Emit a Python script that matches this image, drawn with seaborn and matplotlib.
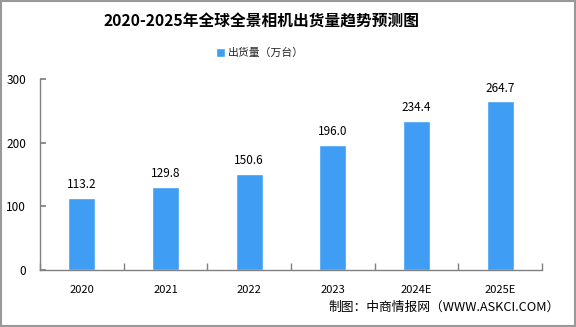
import matplotlib
matplotlib.use("Agg")
import matplotlib.pyplot as plt
import seaborn as sns
import pandas as pd
import numpy as np
from matplotlib.patches import Rectangle

years = ["2020", "2021", "2022", "2023", "2024E", "2025E"]
shipments = [113.2, 129.8, 150.6, 196.0, 234.4, 264.7]
yticks = [0, 100, 200, 300]

sns.set_theme(style="white")
plt.rcParams['font.family'] = ['Noto Sans CJK SC', 'DejaVu Sans']

df = pd.DataFrame({"year": years, "value": shipments})
color = "#3F9DF3"

fig = plt.figure(figsize=(5.76, 3.27), dpi=100)
ax = fig.add_axes([40/576, 1 - 270/327, (542-40)/576, (270-79)/327])

sns.barplot(data=df, x="year", y="value", color=color, width=0.32,
            saturation=1, ax=ax, label="出货量（万台）")

ax.set_ylim(0, 300)
ax.set_xlim(-0.5, len(years) - 0.5)
ax.set_yticks(yticks)
ax.set_xticks(np.arange(-0.5, len(years), 1.0), minor=True)
ax.set_xlabel("")
ax.set_ylabel("")
for s in ["top", "right"]:
    ax.spines[s].set_visible(False)
for s in ["left", "bottom"]:
    ax.spines[s].set_color("#808080")
    ax.spines[s].set_linewidth(1)
ax.tick_params(axis="y", which="both", left=True, direction="in", length=4,
               color="#808080", labelsize=8.5, labelcolor="black", pad=10)
ax.tick_params(axis="x", which="major", bottom=False, labelsize=8,
               labelcolor="black", pad=5)
ax.tick_params(axis="x", which="minor", bottom=True, direction="in", length=5,
               color="#808080")

for cont in ax.containers:
    ax.bar_label(cont, labels=[f"{v:.1f}" for v in shipments], padding=5,
                 fontsize=8.5, color="black")

ax.legend(loc="center", bbox_to_anchor=(260/576, 1 - 53/327),
          bbox_transform=fig.transFigure,
          frameon=False, fontsize=7.8, handlelength=0.8, handleheight=0.8,
          handletextpad=0.3)

fig.text(261/576, 1 - 22/327, "2020-2025年全球全景相机出货量趋势预测图",
         ha="center", va="center", fontsize=11.3, fontweight="bold", color="black")
fig.text(560/576, 1 - 307/327, "制图：中商情报网（WWW.ASKCI.COM）",
         ha="right", va="center", fontsize=9.2, color="black")

fig.patches.append(Rectangle((0.001, 0.002), 0.997, 0.996, transform=fig.transFigure,
                             fill=False, edgecolor="#999999", linewidth=1.5))

fig.savefig("out.png", dpi=100)
